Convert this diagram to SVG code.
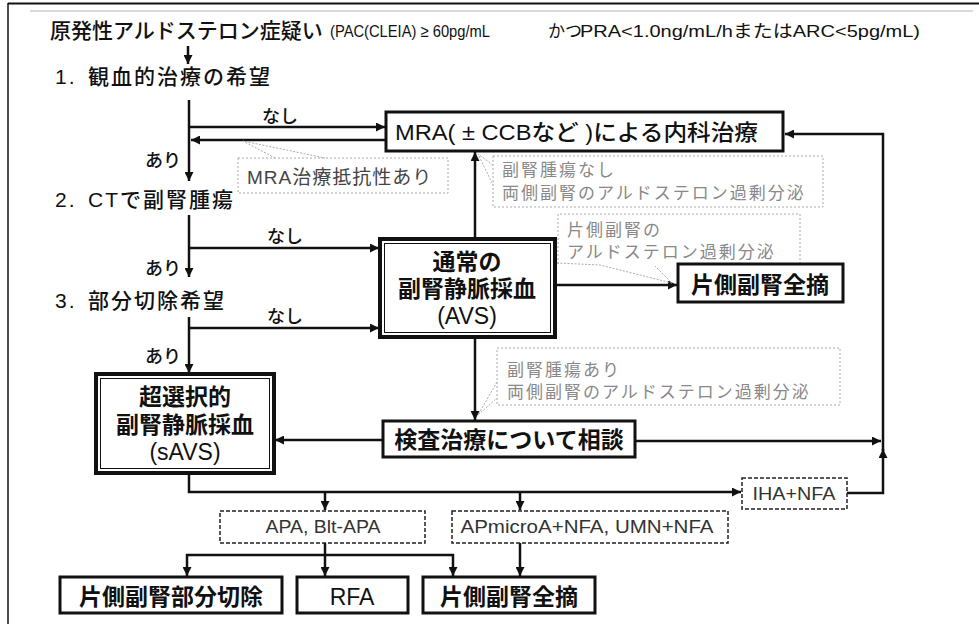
<svg xmlns="http://www.w3.org/2000/svg" width="979" height="624" viewBox="0 0 979 624">
<style>
text{font-family:"Liberation Sans","Noto Sans CJK JP",sans-serif;fill:#111}
.item{font-size:21px;font-weight:500;letter-spacing:2px}
.lbl{font-size:18px;font-weight:500}
.box{fill:#fff;stroke:#111;stroke-width:3}
.thick{fill:#fff;stroke:#111;stroke-width:4}
.inner{fill:none;stroke:#111;stroke-width:1}
.bt{font-size:23px;font-weight:bold;text-anchor:middle}
.dash{fill:#fff;stroke:#222;stroke-width:1.5;stroke-dasharray:4 2}
.call{fill:none;stroke:#aaa;stroke-width:1;stroke-dasharray:2 2}
.ct{font-size:17px;fill:#888;letter-spacing:2px}
.dt{font-size:18px;fill:#333;text-anchor:middle}
.ptr{fill:none;stroke:#aaa;stroke-width:1;stroke-dasharray:2 1.5}
#connectors path{fill:none;stroke:#111;stroke-width:2.5}
</style>
<defs>
<marker id="ah" markerUnits="userSpaceOnUse" markerWidth="9" markerHeight="9" refX="9" refY="4.5" orient="auto">
<path d="M0,0 L9,4.5 L0,9 z" fill="#111"/>
</marker>
</defs>
<rect width="979" height="624" fill="#fff"/>
<g id="frame">
<line x1="8" y1="3.5" x2="979" y2="3.5" stroke="#111" stroke-width="2"/>
<line x1="8" y1="3" x2="8" y2="624" stroke="#111" stroke-width="1.5"/>
<line x1="30" y1="11" x2="973" y2="11" stroke="#ccc" stroke-width="1.5"/>
</g>
<g id="title">
<text x="50" y="38" style="font-size:21px;font-weight:500">原発性アルドステロン症疑い</text>
<text x="330" y="37" style="font-size:17px" textLength="160" lengthAdjust="spacingAndGlyphs">(PAC(CLEIA) ≥ 60pg/mL</text>
<text x="548" y="37" style="font-size:17px">かつ</text>
<text x="580" y="37" style="font-size:17px" textLength="340" lengthAdjust="spacingAndGlyphs">PRA&lt;1.0ng/mL/hまたはARC&lt;5pg/mL)</text>
</g>
<g id="steps">
<text x="55" y="84" class="item">1.</text><text x="88" y="84" class="item">観血的治療の希望</text>
<text x="55" y="207" class="item">2.</text><text x="88" y="207" class="item">CTで副腎腫瘍</text>
<text x="55" y="308" class="item">3.</text><text x="88" y="308" class="item">部分切除希望</text>
<text x="145" y="167" class="lbl">あり</text>
<text x="145" y="275" class="lbl">あり</text>
<text x="145" y="363" class="lbl">あり</text>
<text x="262" y="123" class="lbl">なし</text>
<text x="267" y="243" class="lbl">なし</text>
<text x="267" y="323" class="lbl">なし</text>
</g>
<g id="connectors">
<path d="M188,46 V64" marker-end="url(#ah)"/>
<path d="M189,100 V181" marker-end="url(#ah)"/>
<path d="M189,127 H385" marker-end="url(#ah)"/>
<path d="M386,140 H191" marker-end="url(#ah)"/>
<path d="M189,215 V277" marker-end="url(#ah)"/>
<path d="M189,248 H379" marker-end="url(#ah)"/>
<path d="M189,317 V373" marker-end="url(#ah)"/>
<path d="M189,328 H379" marker-end="url(#ah)"/>
<path d="M475,239 V152" marker-end="url(#ah)"/>
<path d="M475,337 V420" marker-end="url(#ah)"/>
<path d="M555,285 H677" marker-end="url(#ah)"/>
<path d="M383,440 H275" marker-end="url(#ah)"/>
<path d="M635,441 H881" marker-end="url(#ah)"/>
<path d="M189,473 V492 H741" marker-end="url(#ah)"/>
<path d="M325,492 V510" marker-end="url(#ah)"/>
<path d="M520,492 V510" marker-end="url(#ah)"/>
<path d="M847,493 H883 V449" marker-end="url(#ah)"/>
<path d="M883,451 V134 H785" marker-end="url(#ah)"/>
<path d="M325,543 V555"/>
<path d="M186,555 H454"/>
<path d="M187,554 V576" marker-end="url(#ah)"/>
<path d="M325,554 V576" marker-end="url(#ah)"/>
<path d="M453,554 V576" marker-end="url(#ah)"/>
<path d="M520,543 V576" marker-end="url(#ah)"/>
</g>
<g id="mra">
<rect class="box" x="386" y="112" width="397" height="39"/>
<text x="395" y="140" style="font-size:22px;font-weight:500" textLength="363" lengthAdjust="spacingAndGlyphs">MRA( ± CCBなど )による内科治療</text>
</g>
<g id="callout-resist">
<rect class="call" x="238" y="158" width="210" height="35"/>
<path class="ptr" d="M275,158 L243,141 L325,158"/>
<text x="247" y="184" style="font-size:19px;fill:#444;letter-spacing:1px">MRA治療抵抗性あり</text>
</g>
<g id="callout-bilateral1">
<rect class="call" x="493" y="156" width="330" height="51"/>
<path class="ptr" d="M493,165 L478,154 L493,185"/>
<text x="502" y="176" class="ct">副腎腫瘍なし</text>
<text x="502" y="199" class="ct">両側副腎のアルドステロン過剰分泌</text>
</g>
<g id="callout-unilateral">
<path class="call" d="M558,264 V214 H800 V264"/>
<path class="ptr" d="M557,263 L600,265 L672,283 L655,266"/>
<text x="567" y="236" class="ct">片側副腎の</text>
<text x="567" y="258" class="ct">アルドステロン過剰分泌</text>
</g>
<g id="callout-bilateral2">
<rect class="call" x="497" y="348" width="343" height="57"/>
<path class="ptr" d="M497,382 L478,415 L497,398"/>
<text x="507" y="376" class="ct">副腎腫瘍あり</text>
<text x="507" y="398" class="ct">両側副腎のアルドステロン過剰分泌</text>
</g>
<g id="avs">
<rect class="thick" x="380" y="239" width="175" height="98"/>
<rect class="inner" x="384.5" y="243.5" width="166" height="89"/>
<text x="467" y="270" class="bt">通常の</text>
<text x="467" y="297" class="bt">副腎静脈採血</text>
<text x="467" y="324" class="bt" style="font-weight:500">(AVS)</text>
</g>
<g id="unilateral-adx">
<rect class="box" x="678" y="264" width="165" height="38"/>
<text x="760" y="293" class="bt">片側副腎全摘</text>
</g>
<g id="consult">
<rect class="box" x="383" y="421" width="252" height="36"/>
<text x="509" y="448" class="bt">検査治療について相談</text>
</g>
<g id="savs">
<rect class="thick" x="96" y="374" width="178" height="99"/>
<rect class="inner" x="100.5" y="378.5" width="169" height="90"/>
<text x="185" y="405" class="bt">超選択的</text>
<text x="185" y="433" class="bt">副腎静脈採血</text>
<text x="185" y="460" class="bt" style="font-weight:500">(sAVS)</text>
</g>
<g id="apa">
<rect class="dash" x="220" y="511" width="205" height="32"/>
<text x="323" y="533" class="dt" textLength="115" lengthAdjust="spacingAndGlyphs">APA, Blt-APA</text>
</g>
<g id="apmicro">
<rect class="dash" x="452" y="511" width="276" height="32"/>
<text x="587" y="533" class="dt" textLength="253" lengthAdjust="spacingAndGlyphs">APmicroA+NFA, UMN+NFA</text>
</g>
<g id="iha">
<rect class="dash" x="742" y="478" width="105" height="31"/>
<text x="794" y="500" class="dt" textLength="83" lengthAdjust="spacingAndGlyphs">IHA+NFA</text>
</g>
<g id="partial">
<rect class="box" x="60" y="577" width="222" height="36"/>
<text x="171" y="605" class="bt">片側副腎部分切除</text>
</g>
<g id="rfa">
<rect class="box" x="297" y="577" width="111" height="36"/>
<text x="352" y="605" class="bt" style="font-weight:500">RFA</text>
</g>
<g id="total">
<rect class="box" x="423" y="577" width="172" height="36"/>
<text x="509" y="605" class="bt">片側副腎全摘</text>
</g>
</svg>
